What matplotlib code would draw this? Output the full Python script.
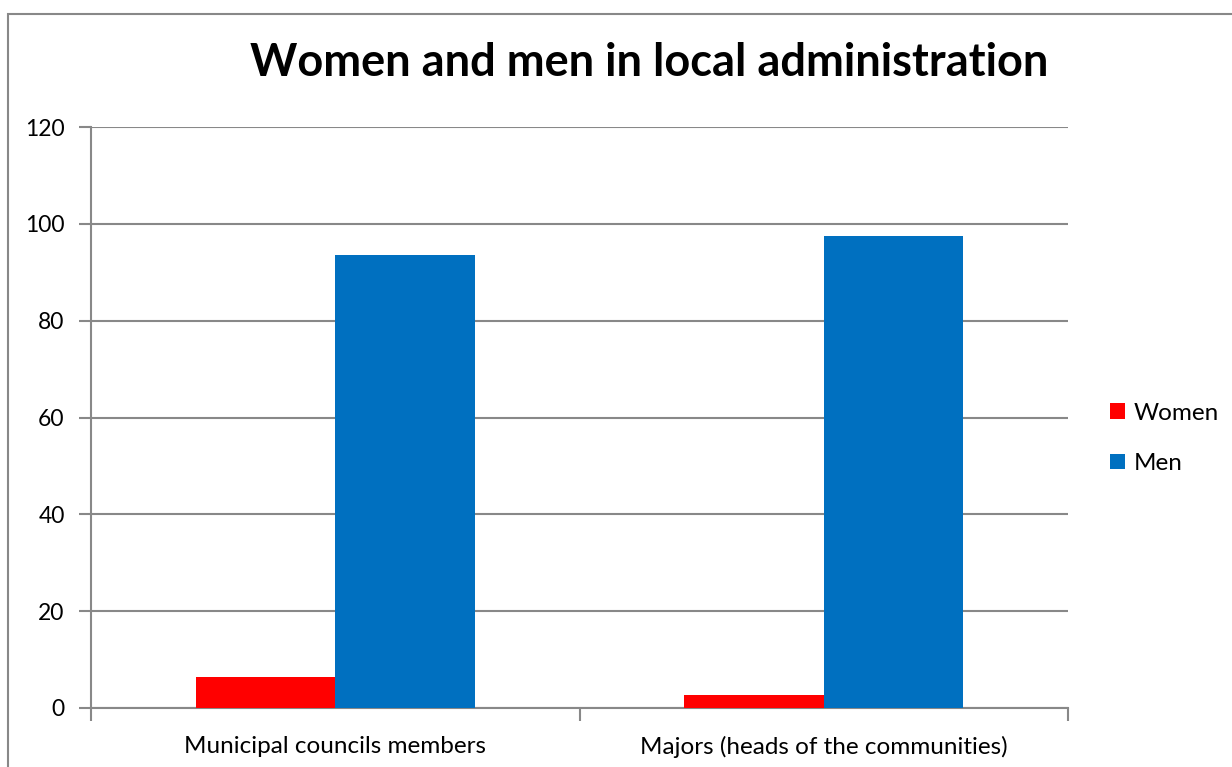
import matplotlib
matplotlib.use("Agg")
import matplotlib.pyplot as plt
from matplotlib.patches import Rectangle
import numpy as np

categories = ["Municipal councils members", "Majors (heads of the communities)"]
women = [6.5, 2.6]
men = [93.5, 97.4]
yticks = [0, 20, 40, 60, 80, 100, 120]

plt.rcParams['font.family'] = ['Lato', 'DejaVu Sans']

W, H = 1232, 767
fig = plt.figure(figsize=(W / 100, H / 100), dpi=100)
grid_c = '#888888'

# outer chart border
fig.patches.append(Rectangle((8 / W, -0.05), 1.2, (H - 14) / H + 0.05, transform=fig.transFigure,
                             fill=False, edgecolor=grid_c, linewidth=1.5))

ax = fig.add_axes([91 / W, (H - 708) / H, (1068 - 91) / W, (708 - 127) / H])
x = np.arange(len(categories))
bw = 1 / 3.5
ax.bar(x - bw / 2, women, bw, color='#FF0000', label='Women', zorder=3)
ax.bar(x + bw / 2, men, bw, color='#0070C0', label='Men', zorder=3)

ax.set_xlim(-0.5, len(categories) - 0.5)
ax.set_ylim(0, 120)
ax.set_yticks(yticks)
ax.set_yticklabels([str(v) for v in yticks], fontsize=16.5)
ax.yaxis.grid(True, color=grid_c, linewidth=1.5, zorder=0)
ax.tick_params(axis='y', length=9, width=1.5, color=grid_c, pad=10)
for s in ['top', 'right']:
    ax.spines[s].set_visible(False)
for s in ['left', 'bottom']:
    ax.spines[s].set_color(grid_c)
    ax.spines[s].set_linewidth(1.5)

ax.set_xticks(x)
ax.set_xticklabels(categories, fontsize=17.5)
ax.tick_params(axis='x', length=0, pad=20)
ax.set_xticks(np.arange(-0.5, len(categories)), minor=True)
ax.tick_params(axis='x', which='minor', length=9, width=1.5, color=grid_c)

fig.text(649 / W, 1 - 63 / H, "Women and men in local administration", ha='center', va='center',
         fontsize=32.5, fontweight='bold')

leg = ax.legend(loc='center left', bbox_to_anchor=(1.043, 0.464), frameon=False, fontsize=17.5,
                borderpad=0, borderaxespad=0,
                handlelength=0.62, handleheight=0.62, handletextpad=0.35, labelspacing=1.2)

fig.savefig("out.png", dpi=100)
